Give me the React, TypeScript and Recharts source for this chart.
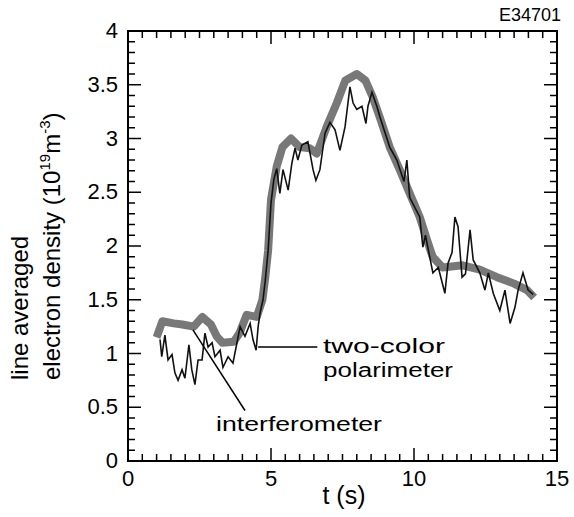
import { LineChart, Line, XAxis, YAxis, ReferenceLine, Customized } from 'recharts';

// two-color polarimeter (thick grey band)
const polT = [1.0, 1.2, 1.6, 1.9, 2.3, 2.6, 2.9, 3.1, 3.3, 3.7, 3.9, 4.15, 4.5, 4.7, 4.8, 4.9, 5.0, 5.2, 5.4, 5.7, 6.0, 6.35, 6.6, 6.95, 7.3, 7.6, 8.0, 8.3, 8.55, 8.8, 9.15, 9.5, 9.85, 10.2, 10.45, 10.65, 11.0, 11.7, 12.3, 12.9, 13.5, 13.95, 14.2];
const polN = [1.15, 1.3, 1.28, 1.27, 1.25, 1.34, 1.27, 1.16, 1.1, 1.11, 1.19, 1.36, 1.34, 1.5, 1.71, 1.96, 2.43, 2.74, 2.92, 3.0, 2.92, 2.91, 2.86, 3.11, 3.33, 3.54, 3.6, 3.54, 3.39, 3.2, 2.92, 2.71, 2.49, 2.27, 2.06, 1.9, 1.8, 1.82, 1.78, 1.71, 1.65, 1.59, 1.52];

// interferometer (thin black line)
const intT = [1.12, 1.18, 1.29, 1.4, 1.54, 1.64, 1.75, 1.89, 1.99, 2.13, 2.23, 2.34, 2.45, 2.59, 2.69, 2.8, 2.94, 3.04, 3.22, 3.32, 3.5, 3.67, 3.81, 3.92, 4.09, 4.27, 4.37, 4.48, 4.55, 4.62, 4.72, 4.8, 4.9, 5.0, 5.1, 5.2, 5.31, 5.42, 5.6, 5.73, 5.84, 5.94, 6.08, 6.29, 6.47, 6.57, 6.71, 6.89, 7.06, 7.24, 7.41, 7.59, 7.76, 7.87, 8.0, 8.18, 8.32, 8.39, 8.53, 8.7, 8.81, 9.15, 9.4, 9.65, 9.75, 9.85, 10.2, 10.31, 10.4, 10.66, 10.85, 11.08, 11.19, 11.33, 11.43, 11.54, 11.68, 11.8, 11.96, 12.07, 12.3, 12.48, 12.6, 12.77, 13.0, 13.18, 13.36, 13.53, 13.64, 13.81, 13.99, 14.17];
const intN = [1.13, 0.97, 1.17, 0.94, 0.99, 0.82, 0.75, 0.85, 0.77, 1.08, 0.85, 0.71, 0.94, 0.94, 1.19, 1.06, 1.1, 0.97, 1.03, 0.87, 0.97, 0.91, 1.1, 1.25, 1.16, 1.28, 1.13, 1.03, 1.25, 1.38, 1.5, 1.68, 1.96, 2.4, 2.62, 2.72, 2.49, 2.71, 2.52, 2.77, 2.91, 2.8, 2.94, 2.97, 2.71, 2.61, 2.71, 3.05, 3.15, 3.08, 2.89, 3.11, 3.48, 3.33, 3.27, 3.3, 3.14, 3.3, 3.43, 3.3, 3.2, 2.92, 2.8, 2.6, 2.8, 2.45, 2.27, 1.99, 2.1, 1.75, 1.8, 1.56, 1.84, 1.94, 2.27, 2.18, 1.71, 1.74, 2.15, 1.87, 1.75, 1.59, 1.75, 1.56, 1.4, 1.59, 1.28, 1.43, 1.59, 1.75, 1.59, 1.55];

const xLabels = [0, 5, 10, 15];
const yLabels = [0, 0.5, 1, 1.5, 2, 2.5, 3, 3.5, 4];
const xTicks = Array.from({ length: 31 }, (_, i) => i * 0.5);
const yTicks = Array.from({ length: 41 }, (_, i) => i / 10);

const polData = polT.map((t, i) => ({ t, n: polN[i] }));
const intData = intT.map((t, i) => ({ t, n: intN[i] }));

const FONT = '"Liberation Sans", Arial, Helvetica, sans-serif';
const T_MIN = 0, T_MAX = 15, N_MIN = 0, N_MAX = 4;

// plot box (matches chart margins + axis sizes below)
const W = 574, H = 517;
const M = { top: 31, right: 17 };
const Y_AXIS_W = 128, X_AXIS_H = 56;
const PL = Y_AXIS_W, PR = W - M.right, PT = M.top, PB = H - X_AXIS_H;
const px = (t: number) => PL + ((t - T_MIN) / (T_MAX - T_MIN)) * (PR - PL);
const py = (v: number) => PB - ((v - N_MIN) / (N_MAX - N_MIN)) * (PB - PT);

const isMajorX = (v: number) => xLabels.includes(v);
const isMajorY = (v: number) => Math.abs(v * 2 - Math.round(v * 2)) < 1e-6;

function BottomTick({ x, y, payload }: any) {
  const v = payload.value;
  if (!isMajorX(v)) return <g />;
  return (
    <text x={x} y={y + 25} textAnchor="middle" fontSize={22} fontFamily={FONT} fill="#000">
      {v}
    </text>
  );
}

function LeftTick({ x, y, payload }: any) {
  const v = payload.value;
  if (!isMajorY(v)) return <g />;
  return (
    <text x={x - 10} y={y + 7} textAnchor="end" fontSize={22} fontFamily={FONT} fill="#000">
      {yLabels.find((l) => Math.abs(l - v) < 1e-6)}
    </text>
  );
}

// box frame with inward ticks on all four sides
function Frame() {
  return (
    <g stroke="#000" fill="none">
      <rect x={PL} y={PT} width={PR - PL} height={PB - PT} strokeWidth={2} />
      {xTicks.map((t) => {
        const len = isMajorX(t) ? 13 : 7;
        return (
          <g key={'x' + t} strokeWidth={1.5}>
            <line x1={px(t)} x2={px(t)} y1={PB} y2={PB - len} />
            <line x1={px(t)} x2={px(t)} y1={PT} y2={PT + len} />
          </g>
        );
      })}
      {yTicks.map((v) => {
        const len = isMajorY(v) ? 13 : 7;
        return (
          <g key={'y' + v} strokeWidth={1.5}>
            <line x1={PL} x2={PL + len} y1={py(v)} y2={py(v)} />
            <line x1={PR} x2={PR - len} y1={py(v)} y2={py(v)} />
          </g>
        );
      })}
    </g>
  );
}

function Titles() {
  return (
    <g fontFamily={FONT} fill="#000">
      <text x={561} y={21} textAnchor="end" fontSize={18}>E34701</text>
      <text x={344} y={504} textAnchor="middle" fontSize={25}>t (s)</text>
      <text transform="translate(28,380) rotate(-90)" fontSize={24}>line averaged</text>
      <text transform="translate(60,380) rotate(-90)" fontSize={24}>
        electron density (10
        <tspan fontSize={15} dy={-10}>19</tspan>
        <tspan dy={10}>m</tspan>
        <tspan fontSize={15} dy={-10}>-3</tspan>
        <tspan dy={10}>)</tspan>
      </text>
      <text x={323} y={353} fontSize={20} textLength={122} lengthAdjust="spacingAndGlyphs">two-color</text>
      <text x={323} y={377} fontSize={20} textLength={130} lengthAdjust="spacingAndGlyphs">polarimeter</text>
      <text x={216} y={431} fontSize={21} textLength={166} lengthAdjust="spacingAndGlyphs">interferometer</text>
    </g>
  );
}

export default function App() {
  return (
    <div style={{ position: 'absolute', left: 0, top: 0, background: '#fff' }}>
      <LineChart width={W} height={H} margin={{ top: M.top, right: M.right, bottom: 0, left: 0 }}>
        <XAxis
          dataKey="t"
          type="number"
          domain={[T_MIN, T_MAX]}
          ticks={xTicks}
          interval={0}
          height={X_AXIS_H}
          tickSize={0}
          tickMargin={0}
          tickLine={false}
          axisLine={false}
          tick={(p: any) => <BottomTick {...p} />}
        />
        <YAxis
          type="number"
          domain={[N_MIN, N_MAX]}
          ticks={yTicks}
          interval={0}
          width={Y_AXIS_W}
          tickSize={0}
          tickMargin={0}
          tickLine={false}
          axisLine={false}
          tick={(p: any) => <LeftTick {...p} />}
        />
        <Customized component={Frame} />
        <Line
          data={polData}
          dataKey="n"
          type="linear"
          stroke="#787878"
          strokeWidth={8}
          strokeLinejoin="round"
          dot={false}
          isAnimationActive={false}
        />
        <Line
          data={intData}
          dataKey="n"
          type="linear"
          stroke="#111"
          strokeWidth={1.6}
          dot={false}
          isAnimationActive={false}
        />
        <ReferenceLine
          segment={[{ x: 4.55, y: 1.06 }, { x: 6.62, y: 1.06 }]}
          stroke="#000"
          strokeWidth={1.5}
          ifOverflow="visible"
        />
        <ReferenceLine
          segment={[{ x: 2.27, y: 1.22 }, { x: 4.09, y: 0.47 }]}
          stroke="#000"
          strokeWidth={1.5}
          ifOverflow="visible"
        />
        <Customized component={Titles} />
      </LineChart>
    </div>
  );
}
